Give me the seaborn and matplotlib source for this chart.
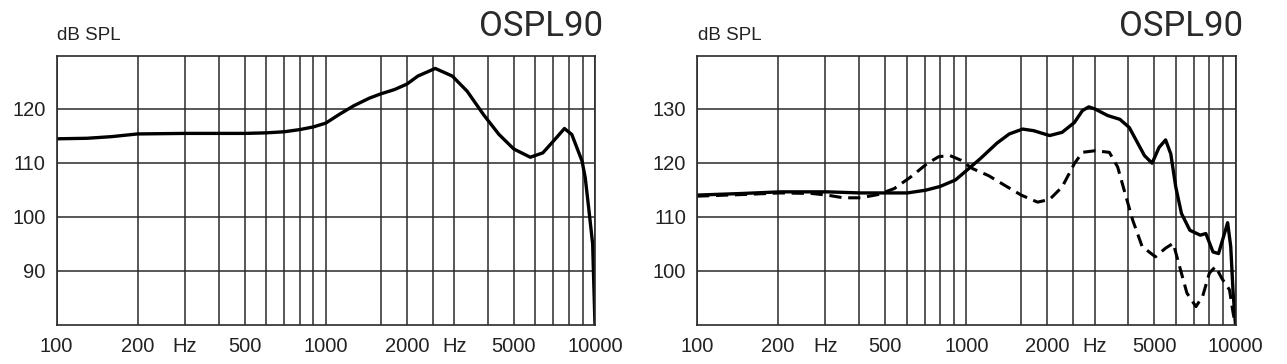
import pandas as pd
import seaborn as sns
import matplotlib.pyplot as plt
from matplotlib import font_manager

# Frequency response values
left_freq = [100, 130, 160, 200, 300, 500, 600, 700, 800, 900, 1000, 1130, 1270, 1450,
             1600, 1800, 2000, 2200, 2550, 2950, 3350, 3850, 4400, 5000, 5750, 6400,
             7100, 7700, 8200, 8950, 9200, 9500, 9800, 10000]
left_db = [114.4, 114.5, 114.8, 115.3, 115.4, 115.4, 115.5, 115.7, 116.1, 116.6, 117.3,
           119.0, 120.5, 121.9, 122.7, 123.5, 124.5, 126.0, 127.4, 126.0, 123.2, 118.9,
           115.2, 112.5, 111.0, 111.8, 114.3, 116.3, 115.2, 110.3, 107.2, 101.1, 95.0, 80.0]

right_freq_solid = [100, 147, 204, 304, 405, 505, 604, 706, 800, 912, 1000, 1126, 1300,
                    1445, 1620, 1780, 2040, 2270, 2520, 2700, 2850, 3010, 3350, 3720,
                    4030, 4280, 4590, 4900, 5200, 5500, 5750, 6000, 6300, 6770, 7400,
                    7760, 8250, 8650, 9100, 9350, 9600, 9800, 10000]
right_db_solid = [114.0, 114.3, 114.6, 114.6, 114.4, 114.4, 114.4, 114.9, 115.6, 116.8,
                  118.5, 120.7, 123.6, 125.3, 126.2, 125.9, 125.0, 125.6, 127.4, 129.6,
                  130.3, 129.9, 128.7, 128.0, 126.5, 124.1, 121.3, 119.9, 122.8, 124.2,
                  121.6, 115.5, 110.6, 107.5, 106.6, 106.9, 103.5, 103.2, 106.9, 108.9,
                  104.5, 95.9, 90.0]

right_freq_dashed = [100, 147, 204, 267, 304, 350, 405, 470, 540, 620, 715, 790, 870, 950,
                     1055, 1210, 1390, 1600, 1840, 2040, 2270, 2520, 2700, 3010, 3400,
                     3650, 3860, 4150, 4500, 5040, 5500, 5870, 6200, 6600, 7130, 7550,
                     8000, 8430, 8900, 9500, 9800, 10000]
right_db_dashed = [113.8, 114.1, 114.4, 114.3, 114.0, 113.5, 113.5, 114.1, 115.2, 117.3,
                   119.8, 121.1, 121.3, 120.5, 118.9, 117.6, 115.8, 114.0, 112.7, 113.2,
                   115.5, 119.8, 121.9, 122.2, 121.9, 119.2, 114.9, 109.4, 104.5, 102.6,
                   104.2, 105.1, 100.8, 95.9, 93.4, 95.3, 99.6, 100.8, 98.6, 96.5, 92.2, 90.0]

grid_freqs = [100, 200, 300, 400, 500, 600, 700, 800, 900, 1000, 1600, 2000, 2500,
              3000, 4000, 5000, 6000, 7000, 8000, 9000, 10000]
freq_labels = {100: '100', 200: '200', 300: 'Hz', 500: '500', 1000: '1000',
               2000: '2000', 3000: 'Hz', 5000: '5000', 10000: '10000'}

left_yticks = [90, 100, 110, 120]
right_yticks = [100, 110, 120, 130]

sns.set_style('white')
installed = {f.name for f in font_manager.fontManager.ttflist}
narrow = 'Liberation Sans Narrow' if 'Liberation Sans Narrow' in installed else 'Liberation Sans'
plt.rcParams['font.family'] = [narrow, 'DejaVu Sans']
tick_size = 15.5 if narrow == 'Liberation Sans Narrow' else 14.5

W, H = 1287, 364
fig = plt.figure(figsize=(W / 100, H / 100), dpi=100)

line_col = '#2a2a2a'


def setup_axes(left_px, ylim, yticks):
    ax = fig.add_axes([left_px / W, (H - 325) / H, 538.5 / W, 269 / H])
    ax.set_xscale('log')
    ax.set_xlim(100, 10000)
    ax.set_ylim(*ylim)
    ax.set_xticks(grid_freqs)
    ax.set_xticklabels([freq_labels.get(f, '') for f in grid_freqs])
    ax.xaxis.set_minor_locator(plt.NullLocator())
    ax.set_yticks(yticks)
    ax.set_yticklabels([str(v) for v in yticks])
    ax.tick_params(length=0, labelsize=tick_size, colors='#222222')
    ax.tick_params(axis='x', pad=9)
    ax.tick_params(axis='y', pad=8)
    ax.grid(True, color=line_col, lw=1.1)
    for s in ax.spines.values():
        s.set_color(line_col)
        s.set_linewidth(1.2)
    return ax


ax1 = setup_axes(56.5, (80, 129.7), left_yticks)
sns.lineplot(x=left_freq, y=left_db, ax=ax1, color='black', lw=2.4,
             sort=False, estimator=None)

ax2 = setup_axes(697, (90, 139.7), right_yticks)
sns.lineplot(x=right_freq_dashed, y=right_db_dashed, ax=ax2, color='black', lw=2.2,
             sort=False, estimator=None, linestyle=(0, (4, 2.2)))
sns.lineplot(x=right_freq_solid, y=right_db_solid, ax=ax2, color='black', lw=2.4,
             sort=False, estimator=None)

for ax in (ax1, ax2):
    ax.set_xlabel('')
    ax.set_ylabel('')

# header texts
for x0, x1 in [(57, 603), (698, 1243)]:
    fig.text(x0 / W, 1 - 36 / H, 'dB SPL', fontsize=13.5, va='center', ha='left',
             family=['Liberation Sans', 'DejaVu Sans'], color='#222222')
    fig.text(x1 / W, 1 - 26 / H, 'OSPL90', fontsize=25, va='center', ha='right',
             family=['Roboto', 'DejaVu Sans'], color='#2a2a2a')

fig.savefig('out.png', dpi=100)
